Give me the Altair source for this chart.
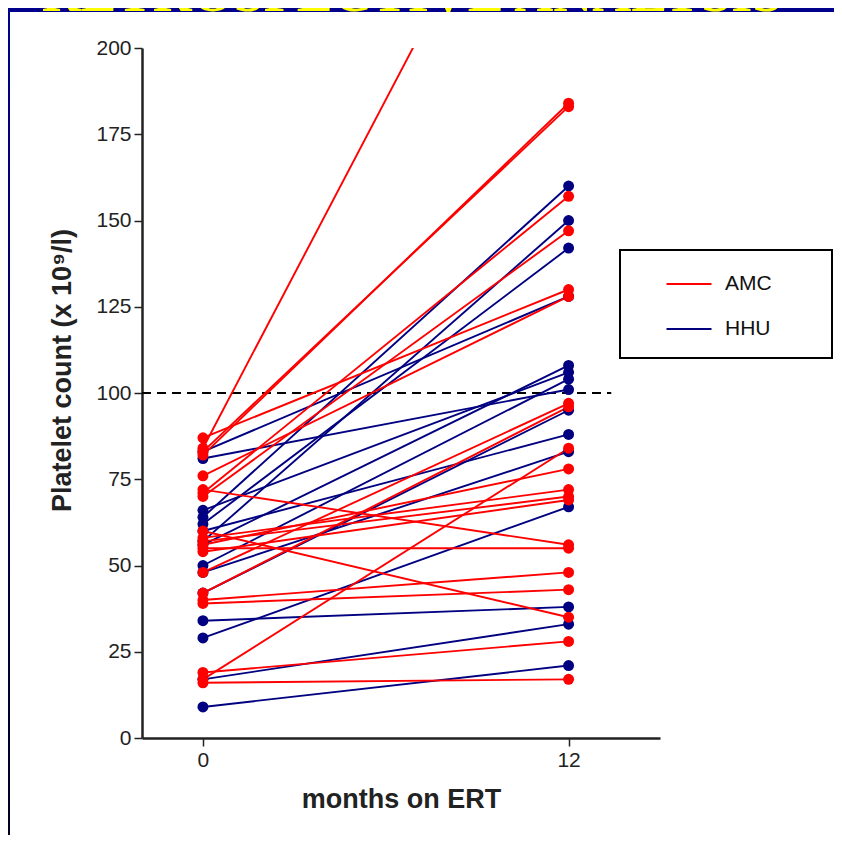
import altair as alt
import pandas as pd

# ---- data ----
amc_0 = [87, 84, 83, 82, 76, 72, 71, 70, 60, 58, 57, 56, 55, 54, 48, 42, 40, 39, 19, 17, 16]
amc_12 = [130, 286, 183, 184, 128, 56, 157, 147, 35, 72, 70, 78, 55, 69, 97, 96, 48, 43, 28, 84, 17]
hhu_0 = [83, 81, 66, 64, 62, 60, 57, 56, 50, 48, 42, 34, 29, 17, 9]
hhu_12 = [128, 101, 106, 160, 142, 88, 150, 108, 104, 83, 95, 38, 67, 33, 21]
months = [0, 12]
groups = ["AMC", "HHU"]
colors = ["#FF0000", "#000080"]
threshold = 100
y_ticks = [0, 25, 50, 75, 100, 125, 150, 175, 200]

rows = []
for i, (a, b) in enumerate(zip(hhu_0, hhu_12)):
    rows.append({"id": f"H{i}", "group": "HHU", "month": months[0], "value": a})
    rows.append({"id": f"H{i}", "group": "HHU", "month": months[1], "value": b})
for i, (a, b) in enumerate(zip(amc_0, amc_12)):
    rows.append({"id": f"A{i}", "group": "AMC", "month": months[0], "value": a})
    rows.append({"id": f"A{i}", "group": "AMC", "month": months[1], "value": b})
df = pd.DataFrame(rows)

font = "Liberation Sans, Arial"
one = pd.DataFrame({"a": [0]})

xscale = alt.Scale(domain=[-2, 15], nice=False, zero=False)
yscale = alt.Scale(domain=[0, 200], nice=False)
cscale = alt.Scale(domain=groups, range=colors)

# decorations of the slide
strip = alt.Chart(one).mark_rect(
    color=alt.LinearGradient(
        gradient="linear",
        stops=[alt.GradientStop(color="#00008C", offset=0),
               alt.GradientStop(color="#000020", offset=1)],
        x1=0, x2=0, y1=0, y2=1)
).encode(x=alt.value(-134), x2=alt.value(-132), y=alt.value(-40), y2=alt.value(787))
band = alt.Chart(one).mark_rect(color="#00008C").encode(
    x=alt.value(-134), x2=alt.value(692), y=alt.value(-40), y2=alt.value(-36))
title_txt = alt.Chart(one).mark_text(
    text="RETROSPECTIVE ANALYSIS", font="Liberation Serif", fontWeight="bold",
    fontSize=54, color="#FFFF00", align="center", baseline="alphabetic"
).encode(x=alt.value(270), y=alt.value(-37))

legend_box = alt.Chart(one).mark_rect(fill="white", stroke="black", strokeWidth=2).encode(
    x=alt.value(478), x2=alt.value(690), y=alt.value(202), y2=alt.value(310))

base = alt.Chart(df)

lines = base.mark_line(strokeWidth=1.9, clip=True).encode(
    x=alt.X("month:Q", scale=xscale,
            axis=alt.Axis(values=months, title="months on ERT", grid=False,
                          labelFont=font, labelFontSize=21, labelColor="#222",
                          titleFont=font, titleFontSize=27, titleFontWeight="bold",
                          titleColor="#222", titlePadding=16, tickSize=8,
                          domainColor="#222", domainWidth=2.5, tickColor="#222",
                          tickWidth=1.5, labelPadding=3)),
    y=alt.Y("value:Q", scale=yscale,
            axis=alt.Axis(values=y_ticks, title="Platelet count (x 10⁹/l)", grid=False,
                          labelFont=font, labelFontSize=21, labelColor="#222",
                          titleFont=font, titleFontSize=27, titleFontWeight="bold",
                          titleColor="#222", tickSize=8, domainColor="#222",
                          domainWidth=2.5, tickColor="#222", tickWidth=1.5,
                          labelPadding=3, titleAngle=-90, titleX=-80, titleY=322,
                          titleAlign="center", titleBaseline="middle")),
    color=alt.Color("group:N", scale=cscale,
                    legend=alt.Legend(title=None, orient="none", legendX=523, legendY=212,
                                      symbolType="stroke", symbolSize=2025,
                                      symbolStrokeWidth=2.2, labelFont=font,
                                      labelFontSize=21, labelColor="#111",
                                      labelOffset=12, rowPadding=11, padding=0)),
    detail="id:N",
)

points = base.mark_point(filled=True, size=120, opacity=1, clip=True).encode(
    x=alt.X("month:Q", scale=xscale),
    y=alt.Y("value:Q", scale=yscale),
    color=alt.Color("group:N", scale=cscale),
)

ref = pd.DataFrame({"y": [threshold], "x": [-2], "x2": [13.4]})
rule = alt.Chart(ref).mark_rule(color="black", strokeWidth=2, strokeDash=[9, 6]).encode(
    y=alt.Y("y:Q", scale=yscale),
    x=alt.X("x:Q", scale=xscale),
    x2="x2:Q",
)

chart = alt.layer(strip, band, title_txt, legend_box, rule, lines, points).properties(
    width=518, height=690,
    padding={"left": 134, "top": 40, "right": 174, "bottom": 97},
    autosize="none", background="white",
).configure_view(stroke=None)

chart.save("out.html", embed_options={"renderer": "svg", "actions": False})
